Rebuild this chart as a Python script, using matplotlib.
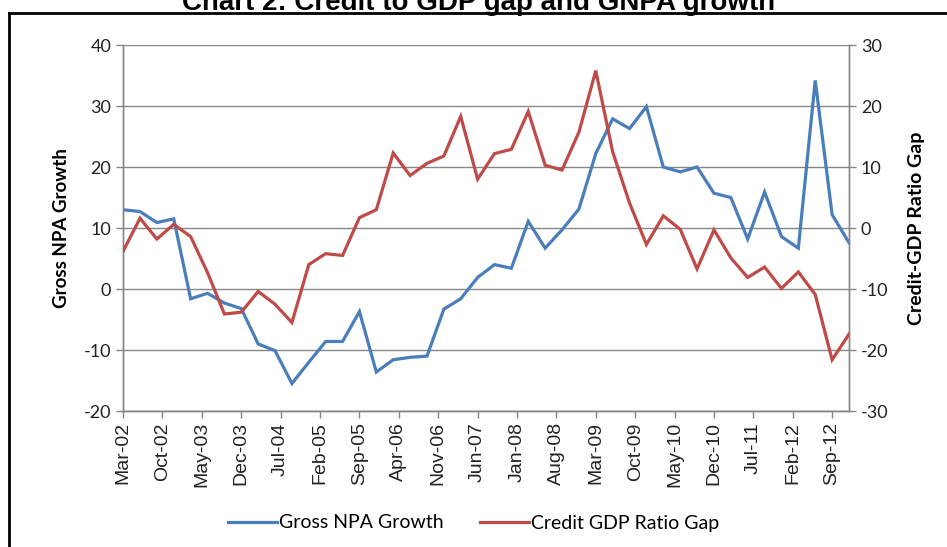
import numpy as np
import matplotlib
matplotlib.use("Agg")
import matplotlib.pyplot as plt
from matplotlib.lines import Line2D

plt.rcParams["axes.unicode_minus"] = False

# ---------- Datos (trimestrales, Mar-02 .. Dec-12) ----------
npa_growth = [13.0, 12.7, 10.9, 11.5, -1.6, -0.7, -2.3, -3.2, -9.0, -10.1,
              -15.5, -12.0, -8.6, -8.6, -3.7, -13.6, -11.6, -11.2, -11.0, -3.3,
              -1.6, 1.9, 4.0, 3.4, 11.1, 6.7, 9.7, 13.1, 22.2, 27.9,
              26.3, 29.9, 20.0, 19.2, 20.0, 15.7, 15.0, 8.2, 15.9, 8.6,
              6.7, 34.2, 12.2, 7.6]
credit_gap = [-3.8, 1.6, -1.8, 0.6, -1.4, -7.3, -14.1, -13.8, -10.4, -12.5,
              -15.5, -6.0, -4.2, -4.5, 1.7, 3.0, 12.3, 8.6, 10.6, 11.8,
              18.3, 8.0, 12.2, 12.9, 19.1, 10.3, 9.5, 15.7, 25.8, 12.5,
              4.1, -2.7, 2.0, -0.2, -6.7, -0.3, -4.9, -8.1, -6.4, -9.9,
              -7.2, -10.9, -21.6, -17.4]
tick_labels = ["Mar-02", "Oct-02", "May-03", "Dec-03", "Jul-04", "Feb-05",
               "Sep-05", "Apr-06", "Nov-06", "Jun-07", "Jan-08", "Aug-08",
               "Mar-09", "Oct-09", "May-10", "Dec-10", "Jul-11", "Feb-12",
               "Sep-12"]

blue = "#4a7ebb"
red = "#be4b48"
grid_c = "#868686"
font = "Lato"

months = np.arange(len(npa_growth)) * 3      # meses desde Mar-02
ticks = np.arange(len(tick_labels)) * 7

fig = plt.figure(figsize=(9.47, 5.47), dpi=100)
ax = fig.add_axes([0.130, 0.2486, 0.7665, 0.6691])
ax2 = ax.twinx()

ax.plot(months, npa_growth, color=blue, lw=2.3, solid_joinstyle="miter", zorder=3)
ax2.plot(months, credit_gap, color=red, lw=2.3, solid_joinstyle="miter", zorder=3)

ax.set_xlim(0, 129)
ax.set_ylim(-20, 40)
ax2.set_ylim(-30, 30)
ax.set_yticks(np.arange(-20, 41, 10))
ax2.set_yticks(np.arange(-30, 31, 10))
ax.set_xticks(ticks)
ax.set_xticklabels(tick_labels, rotation=90, fontfamily="Liberation Sans", fontsize=14)
for lab in ax.get_yticklabels() + ax2.get_yticklabels():
    lab.set_fontfamily(font)
    lab.set_fontsize(13)

ax.grid(axis="y", color=grid_c, lw=1)
ax.set_axisbelow(True)
for a in (ax, ax2):
    a.spines["top"].set_visible(False)
    for s in ("left", "right", "bottom"):
        a.spines[s].set_color(grid_c)
        a.spines[s].set_linewidth(1)
    a.tick_params(colors=grid_c, labelcolor="#222222", length=5, width=1)
ax.tick_params(axis="x", pad=3)

ax.set_ylabel("Gross NPA Growth", fontfamily=font, fontweight="bold",
              fontsize=13.5, labelpad=10)
ax2.set_ylabel("Credit-GDP Ratio Gap", fontfamily=font, fontweight="bold",
               fontsize=14, rotation=90, labelpad=14)

handles = [Line2D([], [], color=blue, lw=2.3), Line2D([], [], color=red, lw=2.3)]
fig.legend(handles, ["Gross NPA Growth", "Credit GDP Ratio Gap"],
           loc="center", bbox_to_anchor=(0.5, 1 - 523 / 547), ncol=2,
           frameon=False, handlelength=2.5, handletextpad=0.1, columnspacing=1.9,
           prop={"family": font, "size": 14})

# titulo recortado arriba + marco
fig.text(0.505, 1 - 10 / 547, "Chart 2: Credit to GDP gap and GNPA growth",
         ha="center", va="baseline", fontsize=20, fontweight="bold",
         fontfamily="Liberation Sans")
fig.add_artist(Line2D([9 / 947, 9 / 947], [0, 1 - 13 / 547], color="black", lw=2))
fig.add_artist(Line2D([9 / 947, 1], [1 - 13 / 547, 1 - 13 / 547], color="black", lw=2))

fig.savefig("out.png", dpi=100)
